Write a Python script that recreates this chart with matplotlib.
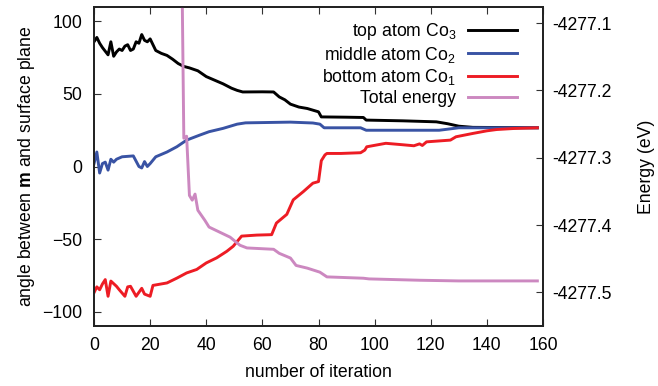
import numpy as np
import matplotlib
matplotlib.use('Agg')
import matplotlib.pyplot as plt

plt.rcParams['font.family'] = ['Liberation Sans', 'DejaVu Sans']
plt.rcParams['mathtext.fontset'] = 'custom'
plt.rcParams['mathtext.rm'] = 'Liberation Sans'
plt.rcParams['mathtext.it'] = 'Liberation Sans:italic'
plt.rcParams['mathtext.bf'] = 'Liberation Sans:bold'

# Angle of top atom Co3 (deg) vs iteration
top_x = [0, 1, 2, 3, 5, 6, 7, 8, 9, 10, 11, 12, 13, 14, 15, 16, 17, 18, 19, 20,
         22, 24, 26, 28, 30, 32, 34, 37, 40, 43, 46, 49, 51, 53, 60, 64, 66, 68,
         70, 73, 76, 80, 81, 90, 96, 97, 110, 122, 126, 130, 135, 158]
top_y = [86, 89, 85, 82, 77, 86, 76, 79, 81, 80, 83, 84, 80, 81, 86, 85, 91, 87, 86, 88,
         80, 78, 76.6, 74, 71, 69, 68, 66, 62, 59.5, 57, 54, 52.5, 51.4, 51.5, 51.4, 48, 46,
         43, 41, 40, 37.7, 34.2, 34, 33.8, 32, 31.5, 30.8, 29.5, 27.8, 27, 26.7]

# Angle of middle atom Co2
mid_x = [0, 1, 2, 3, 4, 5, 6, 7, 8, 10, 12, 14, 16, 17, 18, 19, 20, 22, 26, 29.5,
         33, 37.6, 41, 46, 51, 54, 70, 78, 80.5, 82, 95, 97, 123, 130, 158]
mid_y = [2, 10, -4.5, 2, 3, -2.5, 5, 3, 5, 6.7, 7, 7.3, 0, -1, 3.4, 0, 2, 6.7, 10, 13.6,
         18.2, 21.6, 24, 26.3, 29.2, 30.1, 30.6, 30, 29.2, 26.7, 26.7, 25, 25, 26.7, 26.7]

# Angle of bottom atom Co1
bot_x = [0, 1, 2, 3, 4, 5, 6, 8, 9, 11, 12, 13, 15, 17, 18, 20, 21, 26, 29.5, 33,
         36.6, 40, 43.7, 47.3, 49.6, 52.6, 58, 63.3, 65, 68.7, 71, 74.6, 78, 80, 81,
         82.3, 83, 88, 95, 96.5, 97.2, 104, 110, 114, 116, 117, 118.5, 127, 129, 135,
         140, 143.5, 149.5, 158]
bot_y = [-87, -83, -85, -81, -78, -89.5, -79, -82.6, -85, -89.5, -83, -82.6, -89.5, -84,
         -88, -89.5, -82, -80.3, -77, -73.4, -71, -66.5, -63, -58.5, -55, -48, -47.3, -47,
         -39, -33, -23, -17.3, -11.5, -10.4, 4, 8, 9, 9, 9.5, 11.3, 13.6, 16, 15, 14.3,
         15.6, 14.5, 17, 18.2, 20.5, 22.8, 24.6, 25.5, 26.2, 26.7]

# Total energy (eV)
en_x = [31, 32, 33, 34, 35, 36, 37, 39.5, 41, 45, 48.5, 52, 54.5, 64, 66, 70, 72, 76,
        80.5, 83, 96, 98, 116, 130, 158]
en_y = [-4276.9, -4277.271, -4277.268, -4277.356, -4277.363, -4277.354, -4277.378,
        -4277.393, -4277.403, -4277.411, -4277.418, -4277.430, -4277.434, -4277.436,
        -4277.442, -4277.449, -4277.460, -4277.464, -4277.470, -4277.477, -4277.479,
        -4277.480, -4277.482, -4277.483, -4277.483]

fs = 12.7
fig = plt.figure(figsize=(6.58, 3.86), dpi=100)
ax = fig.add_axes([0.1429, 0.1554, 0.6823, 0.8265])
ax2 = ax.twinx()

lw = 2.1
l1, = ax.plot(top_x, top_y, color='black', lw=lw, label='top atom Co$_3$')
l2, = ax.plot(mid_x, mid_y, color='#3953a4', lw=lw, label='middle atom Co$_2$')
l3, = ax.plot(bot_x, bot_y, color='#ed1c24', lw=lw, label='bottom atom Co$_1$')
l4, = ax2.plot(en_x, en_y, color='#cc88c0', lw=lw, label='Total energy')

ax.set_xlim(0, 160)
ax.set_ylim(-110, 110)
ax2.set_ylim(-4277.55, -4277.076)
ax.set_xticks(np.arange(0, 161, 20))
ax.set_yticks([-100, -50, 0, 50, 100])
ax2.set_yticks([-4277.5, -4277.4, -4277.3, -4277.2, -4277.1])
ax2.set_yticklabels(['-4277.5', '-4277.4', '-4277.3', '-4277.2', '-4277.1'])

ax.tick_params(axis='x', direction='in', top=True, length=5, labelsize=fs, pad=8,
               color='#333333')
ax.tick_params(axis='y', direction='in', length=5, labelsize=fs, pad=8.5, color='#333333')
ax2.tick_params(axis='y', direction='in', length=5, labelsize=fs, pad=7, color='#333333')

for a in (ax, ax2):
    for s in a.spines.values():
        s.set_linewidth(1.3)
        s.set_color('#222222')

ax.set_xlabel('number of iteration', fontsize=fs, labelpad=7)
ax.set_ylabel(r'angle between $\mathbf{m}$ and surface plane', fontsize=fs, labelpad=4)
ax2.set_ylabel('Energy (eV)', fontsize=fs, labelpad=18.5)

ax.legend(handles=[l1, l2, l3, l4], loc='upper right', bbox_to_anchor=(0.942, 0.956),
          frameon=False, markerfirst=False, fontsize=fs, borderpad=0, borderaxespad=0,
          handlelength=2.8, handletextpad=0.64, labelspacing=0.15)

fig.savefig('out.png', dpi=100)
